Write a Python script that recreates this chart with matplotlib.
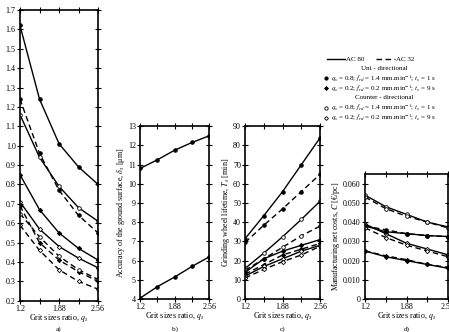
import matplotlib
matplotlib.use("Agg")
import matplotlib.pyplot as plt
from matplotlib.lines import Line2D

plt.rcParams["font.family"] = ["Liberation Serif", "DejaVu Serif"]
plt.rcParams["mathtext.fontset"] = "stix"

qs = [1.2, 1.54, 1.88, 2.22, 2.56]
qs_labels = ["1.2", "", "1.88", "", "2.56"]

# panel a) (label cut off in the source)
a_curves = [
    ([1.62, 1.24, 1.01, 0.89, 0.80], "-", "o", True),
    ([1.24, 0.96, 0.77, 0.64, 0.55], "--", "o", True),
    ([1.16, 0.94, 0.79, 0.68, 0.61], "-", "o", False),
    ([0.85, 0.67, 0.55, 0.47, 0.41], "-", "D", True),
    ([0.71, 0.57, 0.48, 0.42, 0.37], "-", "D", False),
    ([0.69, 0.50, 0.41, 0.35, 0.30], "--", "D", True),
    ([0.65, 0.53, 0.43, 0.36, 0.31], "--", "o", False),
    ([0.59, 0.46, 0.36, 0.30, 0.26], "--", "D", False),
]

# panel b) accuracy of the ground surface
b_curves = [
    ([10.8, 11.25, 11.75, 12.15, 12.5], "-", "o", True),
    ([4.05, 4.65, 5.15, 5.7, 6.2], "-", "o", True),
]

# panel c) grinding wheel lifetime
c_curves = [
    ([31.5, 43.5, 56, 70, 84], "-", "o", True),
    ([29.5, 38.5, 47, 56, 65], "--", "o", True),
    ([16, 24, 32.5, 41.5, 51], "-", "o", False),
    ([15, 21, 27, 33, 38], "--", "o", False),
    ([14, 21, 25, 28, 31], "-", "D", True),
    ([13, 18, 23, 26, 29], "--", "D", True),
    ([12, 17, 21, 25, 28], "-", "D", False),
    ([11, 15.5, 19.5, 23, 27.5], "--", "D", False),
]

# panel d) manufacturing net costs
d_curves = [
    ([0.054, 0.048, 0.044, 0.040, 0.0375], "-", "o", False),
    ([0.053, 0.047, 0.043, 0.040, 0.037], "--", "o", False),
    ([0.039, 0.034, 0.029, 0.026, 0.023], "-", "D", False),
    ([0.038, 0.035, 0.034, 0.033, 0.0325], "-", "o", True),
    ([0.038, 0.036, 0.034, 0.033, 0.0325], "--", "o", True),
    ([0.037, 0.032, 0.028, 0.025, 0.022], "--", "D", False),
    ([0.025, 0.022, 0.020, 0.018, 0.016], "-", "D", True),
    ([0.025, 0.0225, 0.0205, 0.018, 0.0165], "--", "D", True),
]

fig = plt.figure(figsize=(4.49, 3.32), dpi=100)

ax_a = fig.add_axes([0.0445, 0.094, 0.174, 0.876])
ax_b = fig.add_axes([0.312, 0.099, 0.154, 0.521])
ax_c = fig.add_axes([0.546, 0.099, 0.167, 0.521])
ax_d = fig.add_axes([0.813, 0.099, 0.185, 0.377])


def draw(ax, curves):
    for ys, ls, mk, filled in curves:
        ax.plot(qs, ys, color="black", ls=ls, lw=1.0, dashes=(4, 2.5) if ls == "--" else (None, None),
                marker=mk, ms=2.6 if mk == "o" else 2.2, mfc="black" if filled else "white",
                mec="black", mew=0.6)
    ax.set_xlim(1.2, 2.56)
    ax.set_xticks(qs)
    ax.set_xticklabels(qs_labels)
    ax.tick_params(direction="inout", length=4, width=0.8, top=True, right=True,
                   labelsize=5.8, pad=1)
    for s in ax.spines.values():
        s.set_linewidth(1.2)
    ax.set_xlabel("Grit sizes ratio, $q_s$", fontsize=5.8, labelpad=-0.6)


draw(ax_a, a_curves)
ax_a.set_ylim(0.2, 1.7)
ax_a.set_yticks([0.2 + 0.1 * i for i in range(16)])
ax_a.set_yticklabels(["%.1f" % (0.2 + 0.1 * i) for i in range(16)])

draw(ax_b, b_curves)
ax_b.set_ylim(4, 13)
ax_b.set_yticks(range(4, 14))
ax_b.set_ylabel(r"Accuracy of the ground surface, $\delta_s$ [μm]", fontsize=5.8, labelpad=1)

draw(ax_c, c_curves)
ax_c.set_ylim(0, 90)
ax_c.set_yticks(range(0, 91, 10))
ax_c.set_ylabel("Grinding wheel lifetime, $T_s$ [min]", fontsize=5.8, labelpad=1)

draw(ax_d, d_curves)
ax_d.set_ylim(0, 0.065)
ax_d.set_yticks([0, 0.01, 0.02, 0.03, 0.04, 0.05, 0.06])
ax_d.set_yticklabels(["0", "0.010", "0.020", "0.030", "0.040", "0.050", "0.060"])
ax_d.set_ylabel("Manufacturing net costs, $C$ [€/pc]", fontsize=5.8, labelpad=1)

for ax, lab in zip([ax_a, ax_b, ax_c, ax_d], ["a)", "b)", "c)", "d)"]):
    pos = ax.get_position()
    fig.text((pos.x0 + pos.x1) / 2, 0.0, lab, ha="center", va="bottom", fontsize=5.3)

# legend drawn by hand
fs = 5.0
fig.add_artist(Line2D([0.728, 0.768], [0.822, 0.822], color="black", lw=1.0))
fig.text(0.770, 0.822, "AC 80", fontsize=fs, va="center")
fig.add_artist(Line2D([0.838, 0.880], [0.822, 0.822], color="black", lw=1.0, dashes=(4, 2.5)))
fig.text(0.882, 0.822, "AC 32", fontsize=fs, va="center")
fig.text(0.855, 0.793, "Uni - directional", fontsize=fs, va="center", ha="center")
fig.text(0.855, 0.705, "Counter - directional", fontsize=fs, va="center", ha="center")
rows = [
    (0.764, "o", "black", r"$q_s$ = 0.8; $f_{rd}$ = 1.4 mm.min$^{-1}$; $t_s$ = 1 s"),
    (0.734, "D", "black", r"$q_s$ = 0.2; $f_{rd}$ = 0.2 mm.min$^{-1}$; $t_s$ = 9 s"),
    (0.675, "o", "white", r"$q_s$ = 0.8; $f_{rd}$ = 1.4 mm.min$^{-1}$; $t_s$ = 1 s"),
    (0.645, "D", "white", r"$q_s$ = 0.2; $f_{rd}$ = 0.2 mm.min$^{-1}$; $t_s$ = 9 s"),
]
for y, mk, fc, txt in rows:
    fig.add_artist(Line2D([0.727], [y], marker=mk, ms=2.4 if mk == "o" else 2.0, mfc=fc,
                          mec="black", mew=0.6, ls="none"))
    fig.text(0.738, y, txt, fontsize=fs, va="center")

fig.savefig("out.png", dpi=100)
